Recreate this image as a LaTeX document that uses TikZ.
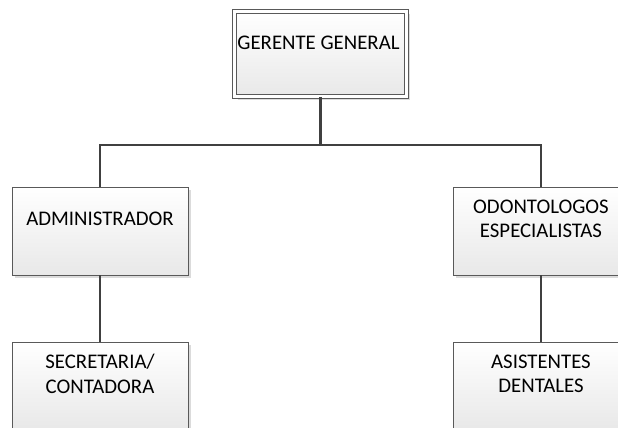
\documentclass[tikz,border=0pt]{standalone}
\usepackage{fontspec}
\setmainfont{Carlito}
\usetikzlibrary{calc,shadows}
\tikzset{
	caja/.style={draw=black!65, line width=0.8pt, top color=white, bottom color=black!9,
		minimum width=176pt, minimum height=88pt, inner sep=0pt,
		drop shadow={shadow xshift=3pt, shadow yshift=-3pt, fill=black!14, opacity=1}},
	texto/.style={align=center, inner sep=0pt, font=\fontsize{20.8}{24.5}\selectfont},
	linea/.style={line width=2.5pt, color=black!75}
}

\begin{document}
\begin{tikzpicture}[x=1pt, y=-1pt]
			%%%%% START %%%%%
			
			\useasboundingbox[fill=white] (0, 0) rectangle (618, 428);
			
			\node[caja, double, double distance=3pt, minimum width=172pt, minimum height=85pt] (gerente) at (320.5, 54) {};
			\node[texto] (gerente-t) at ($(gerente.north)+(-2, 32)$) {GERENTE GENERAL};
			
			\node[caja] (admin) at (100, 231) {};
			\node[texto] (admin-t) at ($(admin.north)+(0, 32)$) {ADMINISTRADOR};
			
			\node[caja] (odonto) at (541, 231) {};
			\node[texto] (odonto-t) at ($(odonto.north)+(0, 32)$) {ODONTOLOGOS\\ESPECIALISTAS};
			
			\node[caja] (secre) at (100, 386) {};
			\node[texto] (secre-t) at ($(secre.north)+(0, 32)$) {SECRETARIA/\\CONTADORA};
			
			\node[caja] (asist) at (541, 386) {};
			\node[texto] (asist-t) at ($(asist.north)+(0, 32)$) {ASISTENTES\\DENTALES};
			
			\coordinate (bus) at (320.5, 145);
			
			\draw[linea] (gerente.south) -- (bus) -| (admin.north);
			\draw[linea] (bus) -| (odonto.north);
			\draw[linea] (admin.south) -- (secre.north);
			\draw[linea] (odonto.south) -- (asist.north);
			
			%%%%% END %%%%%
\end{tikzpicture}
\end{document}
